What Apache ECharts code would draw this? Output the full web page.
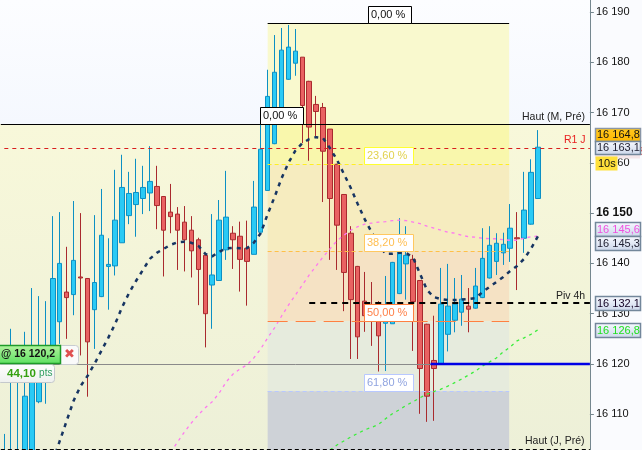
<!DOCTYPE html>
<html><head><meta charset="utf-8">
<style>html,body{margin:0;padding:0;background:#fbfcff}#c{width:642px;height:450px}</style>
<script src="https://cdn.jsdelivr.net/npm/echarts@6/dist/echarts.min.js"></script>
</head><body><div id="c"></div>
<script>
const opens=[16101.9,16117.2,16117.2,16098.9,16098.9,16112.5,16117.2,16122.8,16128.4,16134.3,16133.8,16137.3,16137.0,16130.8,16133.4,16139.4,16139.5,16144.1,16149.5,16151.7,16152.9,16154.0,16155.3,16153.3,16150.2,16149.8,16148.2,16146.6,16144.7,16141.6,16135.7,16136.6,16142.7,16146.0,16145.4,16143.0,16141.8,16146.2,16154.5,16163.8,16169.5,16176.6,16179.8,16181.0,16176.2,16171.6,16171.0,16166.7,16159.7,16153.7,16146.0,16139.4,16132.5,16131.7,16130.7,16128.1,16128.0,16134.0,16139.9,16140.8,16136.6,16127.9,16120.7,16119.9,16125.9,16128.7,16130.3,16131.5,16131.1,16133.2,16137.1,16140.4,16142.1,16143.0,16145.1,16145.0,16147.8,16152.9];
const closes=[16102.5,16122.4,16121.6,16113.6,16122.8,16122.8,16122.8,16137.0,16140.0,16133.2,16140.6,16137.1,16124.4,16136.2,16145.6,16139.8,16148.6,16155.1,16153.9,16154.1,16155.1,16156.3,16151.5,16146.6,16149.3,16146.6,16144.7,16142.5,16138.8,16130.0,16137.7,16148.6,16149.2,16144.7,16140.8,16140.4,16151.2,16162.7,16173.2,16178.0,16182.4,16183.0,16182.2,16171.4,16167.1,16170.2,16162.3,16152.9,16147.6,16138.2,16132.8,16125.4,16129.6,16128.8,16125.6,16129.8,16140.2,16143.7,16141.6,16132.4,16119.1,16113.6,16119.1,16131.9,16131.5,16131.9,16132.9,16130.9,16135.5,16141.0,16143.6,16144.0,16143.8,16147.0,16144.9,16150.6,16158.1,16163.1];
const lows=[16100.9,16100.9,16100.9,16096.9,16096.9,16112.2,16112.1,16117.2,16124.0,16125.0,16129.7,16121.7,16113.5,16123.0,16133.3,16130.8,16137.6,16144.1,16147.8,16145.3,16149.8,16150.4,16146.8,16137.4,16146.0,16138.7,16138.4,16137.2,16131.7,16123.3,16127.0,16136.5,16140.7,16138.9,16134.4,16131.6,16141.8,16146.2,16154.4,16163.7,16169.3,16176.5,16177.3,16163.9,16160.4,16165.3,16152.2,16140.7,16138.7,16130.5,16121.0,16121.0,16126.4,16123.6,16118.5,16118.6,16128.0,16133.9,16132.8,16122.6,16110.1,16108.5,16108.7,16119.9,16122.5,16126.3,16127.6,16126.3,16131.0,16133.1,16137.0,16137.7,16139.7,16140.3,16134.7,16142.1,16147.7,16152.8];
const highs=[16106.1,16127.0,16122.4,16126.4,16135.1,16133.5,16132.5,16149.4,16150.2,16143.3,16152.4,16150.0,16137.1,16149.6,16154.8,16145.0,16158.6,16161.6,16158.2,16160.8,16159.4,16163.3,16159.4,16153.4,16155.8,16151.2,16151.4,16149.4,16145.1,16141.7,16149.8,16152.6,16158.4,16147.4,16148.3,16148.5,16156.4,16167.7,16178.5,16185.4,16186.8,16187.4,16186.6,16181.0,16176.3,16173.3,16171.9,16166.7,16159.8,16153.8,16147.4,16139.5,16138.3,16136.3,16132.5,16137.5,16140.3,16149.0,16147.4,16141.7,16136.7,16128.0,16129.6,16139.1,16139.9,16137.1,16137.7,16135.1,16139.1,16147.0,16147.4,16146.0,16146.1,16151.8,16150.2,16158.2,16160.7,16166.5];
const navyLine=[null,null,null,null,null,null,null,16100.7,16104.7,16108.7,16112.7,16115.6,16117.6,16120.0,16122.6,16125.2,16128.0,16131.3,16134.1,16136.5,16138.7,16140.9,16142.1,16142.9,16143.7,16144.2,16144.3,16144.1,16143.5,16141.9,16141.4,16142.3,16143.0,16143.1,16143.0,16143.0,16144.1,16146.0,16149.8,16153.2,16156.9,16160.0,16162.4,16163.9,16164.7,16165.1,16164.9,16162.9,16160.6,16157.8,16155.0,16151.8,16148.8,16146.2,16143.9,16141.9,16141.9,16142.1,16142.1,16141.1,16137.9,16134.7,16133.3,16132.9,16132.7,16132.7,16132.8,16132.9,16133.1,16134.3,16135.3,16136.3,16137.3,16138.5,16139.5,16140.9,16142.9,16145.4];
const pinkLine=[null,null,null,null,null,null,null,null,null,null,null,null,null,null,null,null,null,null,null,null,null,null,null,null,16102.5,16104.5,16106.5,16108.3,16109.9,16111.3,16112.5,16114.2,16116.4,16118.0,16119.0,16119.8,16121.2,16123.0,16125.2,16127.2,16129.5,16131.7,16133.7,16135.7,16137.7,16139.5,16141.3,16142.9,16144.5,16145.6,16146.6,16147.3,16147.8,16148.0,16148.2,16148.3,16148.5,16148.6,16148.5,16148.2,16147.9,16147.4,16147.0,16146.6,16146.2,16146.0,16145.6,16145.3,16145.2,16145.0,16144.9,16144.9,16144.7,16144.6,16144.6,16145.0,16145.3,16145.4];
const greenLine=[null,null,null,null,null,null,null,null,null,null,null,null,null,null,null,null,null,null,null,null,null,null,null,null,null,null,null,null,null,null,null,null,null,null,null,null,null,null,null,null,null,null,null,null,null,null,null,16102.9,16103.9,16104.7,16105.5,16106.2,16106.9,16107.4,16108.0,16109.1,16110.1,16110.9,16111.8,16112.5,16113.3,16114.0,16114.5,16115.0,16115.6,16116.3,16117.0,16117.8,16118.6,16119.6,16120.4,16121.2,16122.4,16123.4,16124.6,16125.2,16125.9,16126.8];
const categories=Array.from({length:85},(_,i)=>String(i));
const fibLevels=[16187.8,16167.7,16159.8,16142.5,16128.5,16114.6,16098];
const fibStart=38,fibEnd=72.85,pivStart=44,nowStart=61.5;
const levelHautM=16167.7,levelR1=16162.95,levelPiv=16132.1,levelPrice=16120,levelHautJ=16103.0;
const tickBold=16150;

const candles=opens.map((o,i)=>[o,closes[i],lows[i],highs[i]]);
const fibColors=['#F9F9CE','#F9F7AC','#F6ECBF','#F5E2C4','#E6EBDD','#CED2D7'];
const zones=fibColors.map((c,i)=>[{coord:[fibStart,fibLevels[i]],itemStyle:{color:c,opacity:1}},{coord:[fibEnd,fibLevels[i+1]]}]);
function hline(x0,x1,v,color,width,type){
  return [{coord:[x0,v],lineStyle:{color:color,width:width,type:type}},{coord:[x1,v]}];
}
const F='"Liberation Sans",Arial,sans-serif';
function box(x,y,w,h,fill,stroke,text,color,extra){
  extra=extra||{};
  return [
   {type:'rect',z:100,shape:{x:x+.5,y:y+.5,width:w,height:h,r:extra.r||0},style:{fill:fill,stroke:stroke,lineWidth:extra.lw===undefined?1:extra.lw}},
   {type:'text',z:101,x:extra.tx!==undefined?extra.tx:x+3,y:y+h/2+.5,style:{text:text,fill:color,font:(extra.font||'11px ')+F,textVerticalAlign:'middle',textAlign:'left'}}
  ];
}
function grad(a,b){return {type:'linear',x:0,y:0,x2:0,y2:1,colorStops:[{offset:0,color:a},{offset:1,color:b}]};}
function label(x,y,t,c,font){return {type:'text',z:90,x:x,y:y,style:{text:t,fill:c,font:(font||'10.5px ')+F,textVerticalAlign:'middle',textAlign:'left'}};}
const graphics=[
 {type:'rect',z:-10,shape:{x:0,y:0,width:590,height:124},style:{fill:grad('#FCFDFF','#F5F8FE')}},
 {type:'rect',z:-10,shape:{x:0,y:124,width:590,height:326},style:{fill:grad('#F8F8DA','#EDF0D8')}},
 label(522,117,'Haut (M, Pré)','#222'),
 label(564,140,'R1 J','#E82020'),
 label(556,296,'Piv 4h','#222'),
 label(525,441,'Haut (J, Pré)','#222'),
 ...box(368,6,43,17,'#fff','#000','0,00 %','#111',{tx:371}),
 ...box(260,107,43,17,'#fff','#000','0,00 %','#111',{tx:263}),
 ...box(364,147,49,17,'#fff','#FFFF30','23,60 %','#E2D24E',{tx:367}),
 ...box(364,234,49,17,'#fff','#FFC860','38,20 %','#FFBE50',{tx:367}),
 ...box(364,304,49,17,'#fff','#FF8040','50,00 %','#FF8048',{tx:367}),
 ...box(364,374,49,17,'#fff','#B8C8FF','61,80 %','#90A4E0',{tx:367}),
 {type:'rect',z:95,shape:{x:595,y:148,width:45,height:10.5},style:{fill:'#F4E6EA'}},
 {type:'text',z:96,x:610,y:152,style:{text:'16 163,6',fill:'#D84848',font:'11px '+F,textVerticalAlign:'middle'}},
 ...box(595,128,45,13,grad('#FFC820','#FFB800'),'#8A96A6','16 164,8','#111',{lw:1.5,tx:597}),
 ...box(595,141,45,13,grad('#F8FAFF','#CBD6EA'),'#73879B','16 163,1','#223',{lw:1.5,tx:597}),
 ...box(595,156,22,14,'#FFE03A','#FFE03A','10s','#111',{lw:0,tx:598}),
 ...box(595,222,45,14,grad('#F8FAFF','#CBD6EA'),'#73879B','16 145,6','#F050E0',{lw:1.5,tx:597}),
 ...box(595,236,45,14,grad('#F8FAFF','#CBD6EA'),'#73879B','16 145,3','#223',{lw:1.5,tx:597}),
 ...box(595,296,45,14,grad('#F8FAFF','#CBD6EA'),'#73879B','16 132,1','#102',{lw:1.5,tx:597}),
 ...box(595,323,45,14,grad('#F8FAFF','#CBD6EA'),'#73879B','16 126,8','#20E020',{lw:1.5,tx:597}),
 ...box(-3,364,57,18,grad('#FFFFFF','#EEF0EE'),'#C4C8CC','','#333',{r:3}),
 {type:'text',z:101,x:7,y:373.5,style:{rich:{a:{fill:'#34A010',font:'bold 11.5px '+F},b:{fill:'#2E9E60',font:'10px '+F}},text:'{a|44,10} {b|pts}',textVerticalAlign:'middle'}},
 ...box(58,345,20,19,'#FAFAFA','#C8CCD0','','#333',{r:3}),
 {type:'text',z:102,x:69.5,y:354.5,style:{text:'✖',fill:'#E05050',font:'13px "DejaVu Sans"',textAlign:'center',textVerticalAlign:'middle'}},
 ...box(-3,345,63,18,grad('#B4F4A0','#5CE060'),'#1E9A28','@ 16 120,2','#111',{lw:1.5,tx:1,font:'bold 10.5px '}),
];
const chart=echarts.init(document.getElementById('c'),null,{renderer:'canvas'});
chart.setOption({
 animation:false,
 backgroundColor:'#FAFBFE',
 grid:{left:.84,width:589.05,top:-38.4,height:503,containLabel:false,outerBoundsMode:'none'},
 xAxis:[
  {type:'category',data:categories,show:false},
  {type:'value',min:-0.5,max:84.5,show:false}
 ],
 yAxis:{type:'value',position:'right',min:16100,max:16200,interval:10,
  splitLine:{show:false},
  axisLine:{show:true,onZero:false,lineStyle:{color:'#75878F',width:1}},
  axisTick:{show:true,length:4,lineStyle:{color:'#75878F'}},
  axisLabel:{margin:6,color:'#111',fontFamily:'"Liberation Sans",Arial,sans-serif',fontSize:11,
   formatter:v=>{const s=String(v);const t=s.slice(0,2)+' '+s.slice(2);return v===tickBold?'{b|'+t+'}':t;},
   rich:{b:{fontSize:12,fontWeight:'bold',color:'#111',fontFamily:'"Liberation Sans",Arial,sans-serif'}}}},
 graphic:graphics,
 series:[
  {type:'line',xAxisIndex:1,data:[],z:1,silent:true,
   markArea:{silent:true,z:1,data:zones}},
  {type:'candlestick',data:candles,z:3,barWidth:5,
   itemStyle:{color:'#2ACAF5',borderColor:'#0C90C4',color0:'#E96262',borderColor0:'#A92A2E',borderWidth:1}},
  {type:'line',data:pinkLine,z:4,symbol:'none',lineStyle:{color:'#FF78F0',width:1.3,type:[3,4]}},
  {type:'line',data:greenLine,z:4,symbol:'none',lineStyle:{color:'#3CEE3C',width:1.3,type:[3,4]}},
  {type:'line',data:navyLine,z:5,symbol:'none',lineStyle:{color:'#173562',width:2.5,type:[4,5]}},
  {type:'line',xAxisIndex:1,data:[],z:6,silent:true,
   markLine:{silent:true,z:6,symbol:'none',label:{show:false},animation:false,data:[
    hline(-0.5,84.5,levelHautM,'#000',1,'solid'),
    hline(fibStart,fibEnd,fibLevels[0],'#000',1,'solid'),
    hline(0,84.5,levelR1,'#D81E1E',1,[4,4]),
    hline(fibStart,fibEnd,fibLevels[2],'#FFF020',1,[4,3]),
    hline(fibStart,fibEnd,fibLevels[3],'#FFC048',1,[4,3]),
    hline(fibStart,fibEnd,fibLevels[4],'#FF8040',1,[20,8]),
    hline(fibStart,fibEnd,fibLevels[5],'#B8C8FF',1,[4,3]),
    hline(-0.5,84.5,levelPrice,'#8A8A8A',1,'solid'),
    hline(nowStart,84.5,levelPrice,'#0000E6',2.4,'solid'),
    hline(pivStart,84.5,levelPiv,'#000',2,[6,5]),
    hline(-0.5,84.5,levelHautJ,'#000',1,[4,3])
   ]}}
 ]
});
</script></body></html>
